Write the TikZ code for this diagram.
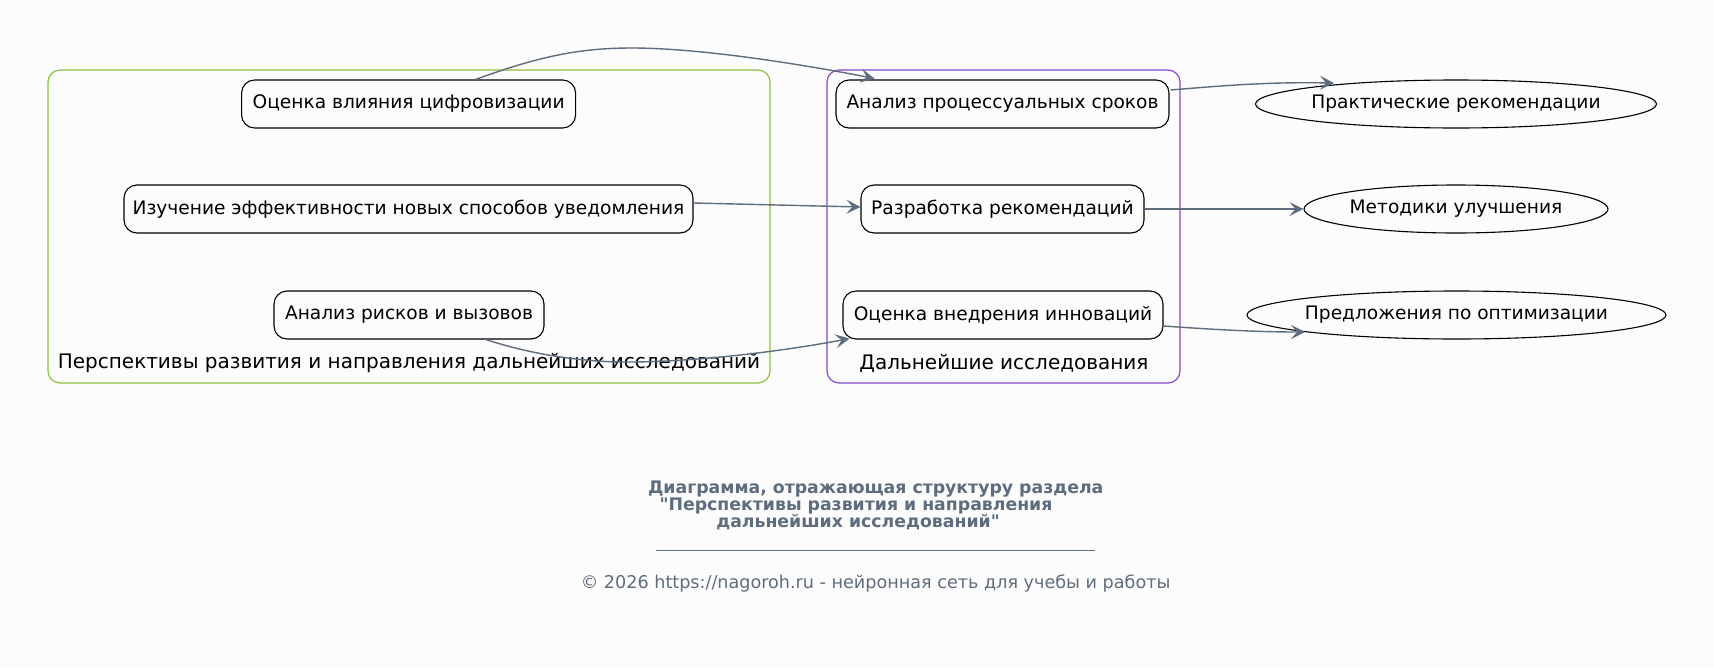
\documentclass[tikz,border=0pt]{standalone}
\usepackage{fontspec}
\newfontfamily\djv{DejaVu Sans}
\usetikzlibrary{arrows.meta,shapes.geometric,calc}
\definecolor{edgec}{HTML}{5D6D7E}
\definecolor{greenc}{HTML}{8CBF3F}
\definecolor{purplec}{HTML}{8448CC}
\definecolor{bgc}{HTML}{FDFCFC}
\definecolor{footc}{HTML}{5D6D7E}
\begin{document}
\begin{tikzpicture}[x=1pt,y=-1pt,
  box/.style={draw=black, line width=1.1pt, rounded corners=13pt, inner sep=0pt,
    minimum height=48pt, font=\djv\fontsize{18.6}{22}\selectfont},
  oval/.style={ellipse, draw=black, line width=1.1pt, inner xsep=-25pt, inner ysep=0pt,
    minimum height=48pt, font=\djv\fontsize{18.6}{22}\selectfont},
  clbox/.style={rounded corners=12pt, line width=1.2pt},
  cllabel/.style={inner sep=0pt, font=\djv\fontsize{20}{24}\selectfont},
  conn/.style={draw=edgec, line width=1.4pt, -{Stealth[length=14pt,width=14pt,inset=6pt]}},
  foottitle/.style={inner sep=0pt, text=footc, font=\djv\bfseries\fontsize{17.3}{20}\selectfont},
  foottext/.style={inner sep=0pt, text=footc, font=\djv\fontsize{17.6}{20}\selectfont}]
\fill[bgc] (0,0) rectangle (1714,667);
\useasboundingbox (0,0) rectangle (1714,667);

% clusters
\draw[clbox, draw=greenc] (48,70) rectangle (770,383);
\draw[clbox, draw=purplec] (827,70) rectangle (1180,383);
\node[cllabel] (lab1) at (409,363) {Перспективы развития и направления дальнейших исследований};
\node[cllabel] (lab2) at (1004,363) {Дальнейшие исследования};

% nodes
\node[box, minimum width=334pt] (a1) at (408.6,104) {Оценка влияния цифровизации};
\node[box, minimum width=569pt] (a2) at (408.5,209) {Изучение эффективности новых способов уведомления};
\node[box, minimum width=270pt] (a3) at (409,315) {Анализ рисков и вызовов};
\node[box, minimum width=333pt] (b1) at (1002.5,104) {Анализ процессуальных сроков};
\node[box, minimum width=283pt] (b2) at (1002.5,209) {Разработка рекомендаций};
\node[box, minimum width=320pt] (b3) at (1003,315) {Оценка внедрения инноваций};
\node[oval, minimum width=401pt] (e1) at (1456,104) {Практические рекомендации};
\node[oval, minimum width=304pt] (e2) at (1456,209) {Методики улучшения};
\node[oval, minimum width=419pt] (e3) at (1456.5,315) {Предложения по оптимизации};

% connectors
\draw[conn] ($(a1.north)+(67,0)$) .. controls (540,56) and (580,48) .. (632,48)
  .. controls (700,48) and (800,64) .. ($(b1.north)+(-128,-1)$);
\draw[conn] ($(a2.east)+(0,-6)$) -- ($(b2.west)+(0,-2)$);
\draw[conn] ($(a3.south)+(77,0)$) .. controls (530,354) and (580,362) .. (627,362)
  .. controls (700,362) and (790,350) .. ($(b3.south west)+(7,-1)$);
\draw[conn] ($(b1.east)+(1,-14)$) .. controls (1230,85) and (1270,82) .. ($(e1.center)+(-122,-21)$);
\draw[conn] (b2.east) -- (e2.west);
\draw[conn] ($(b3.east)+(0,11)$) .. controls (1220,330) and (1260,332) .. ($(e3.center)+(-151.5,17)$);

% footer
\node[foottitle] (t1) at (875.7,489) {Диаграмма, отражающая структуру раздела};
\node[foottitle] (t2) at (856,505.5) {"Перспективы развития и направления};
\node[foottitle] (t3) at (858,522) {дальнейших исследований"};
\node[inner sep=0pt, text=footc] (rl) at (875.5,550) {\rule{439pt}{0.8pt}};
\node[foottext] (cp) at (875.6,583) {© 2026 https://nagoroh.ru - нейронная сеть для учебы и работы};
\end{tikzpicture}
\end{document}
